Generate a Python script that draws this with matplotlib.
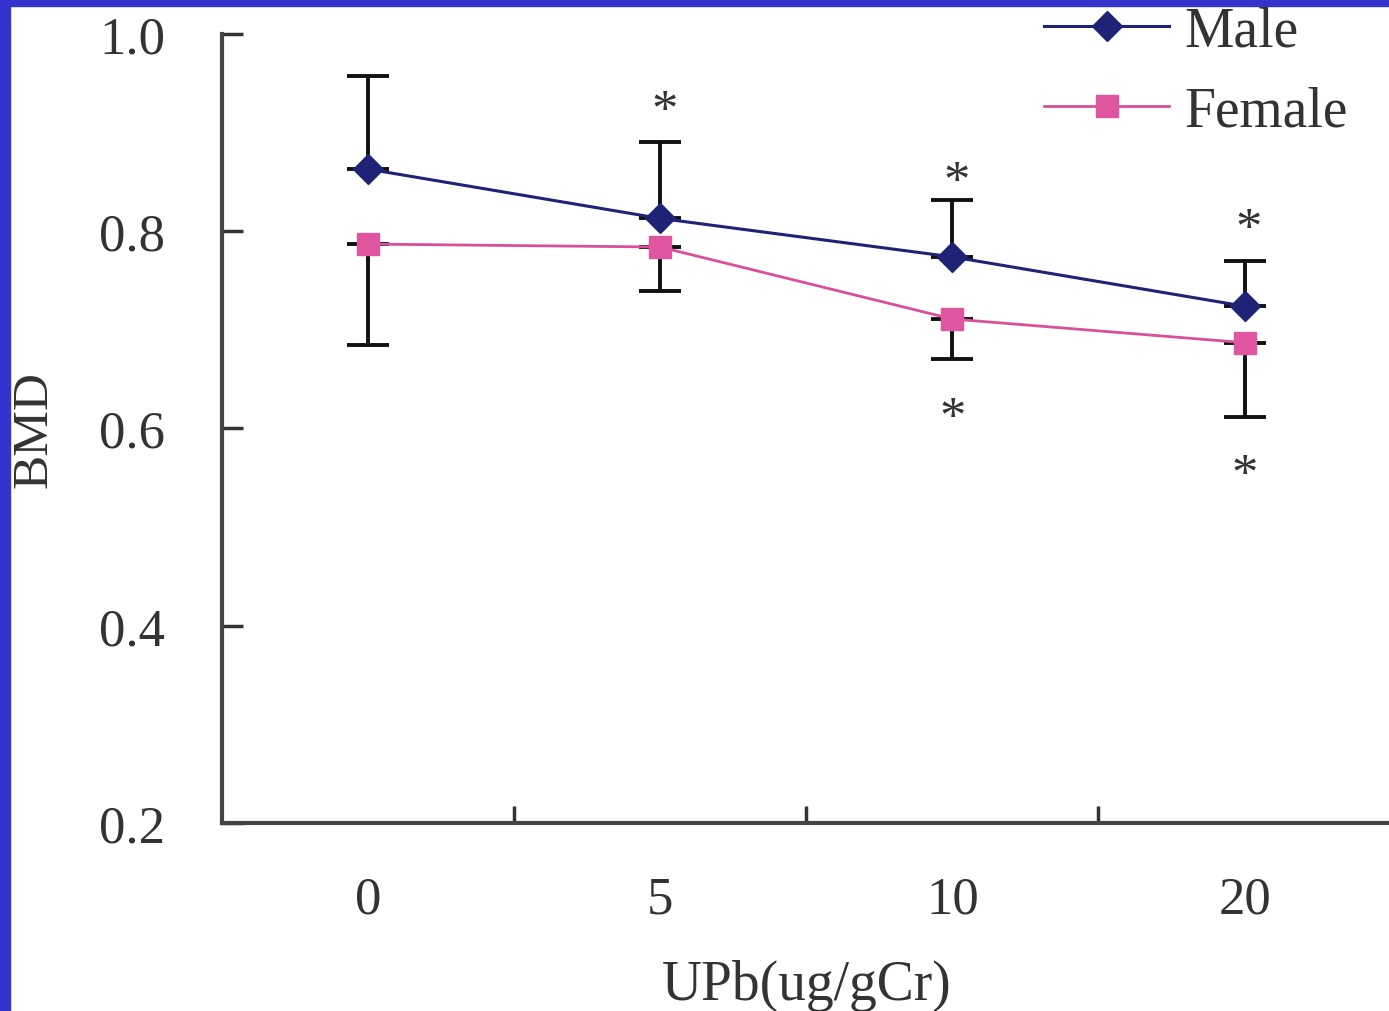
import numpy as np
import matplotlib.pyplot as plt
from matplotlib.patches import Rectangle

# UPb groups and BMD means / SD by sex
groups = ['0', '5', '10', '20']
male_bmd = [0.863, 0.813, 0.774, 0.724]
male_sd = [0.094, 0.077, 0.058, 0.046]
female_bmd = [0.787, 0.784, 0.711, 0.687]
female_sd = [0.102, 0.045, 0.041, 0.075]

# groups marked as significant
male_sig = [1, 2, 3]
female_sig = [2, 3]

plt.rcParams['font.family'] = ['Liberation Serif', 'DejaVu Serif']

x = np.arange(len(groups))
fig = plt.figure(figsize=(13.89, 10.12), dpi=100)
ax = fig.add_axes([0.1598, 0.1858, 0.8414, 0.7796])

# error bars: males go up, females go down
ax.errorbar(x, male_bmd, yerr=[np.zeros(4), male_sd], fmt='none', ecolor='#111111',
            elinewidth=2.8, capsize=15, capthick=2.8, zorder=2)
ax.errorbar(x, female_bmd, yerr=[female_sd, np.zeros(4)], fmt='none', ecolor='#111111',
            elinewidth=2.8, capsize=15, capthick=2.8, zorder=2)

ax.plot(x, male_bmd, color='#1e2375', lw=2.2, marker='D', ms=15,
        label='Male', zorder=3)
ax.plot(x, female_bmd, color='#d9509a', lw=2.0, marker='s', ms=16,
        mfc='#e0559f', mec='#e0559f', label='Female', zorder=3)

# asterisks above male / below female error bars
male_off = [22, 12, 22]
for i, off in zip(male_sig, male_off):
    ax.annotate('*', xy=(x[i], male_bmd[i] + male_sd[i]), xytext=(3, off),
                textcoords='offset points', ha='center', va='center',
                fontsize=38, color='#333333')
for i in female_sig:
    ax.annotate('*', xy=(x[i], female_bmd[i] - female_sd[i]), xytext=(0, -43),
                textcoords='offset points', ha='center', va='center',
                fontsize=38, color='#333333')

ax.set_xlim(-0.5, 3.5)
ax.set_ylim(0.2, 1.0)
ax.set_yticks([0.2, 0.4, 0.6, 0.8, 1.0])
ax.set_yticklabels(['0.2', '0.4', '0.6', '0.8', '1.0'])
ax.set_xticks(x)
ax.set_xticklabels(groups)
ax.set_xticks([0.5, 1.5, 2.5], minor=True)

ax.tick_params(axis='y', direction='in', length=15, width=2.5, color='#333333',
               labelsize=38, labelcolor='#333333', pad=41)
ax.tick_params(axis='x', which='major', length=0, labelsize=38,
               labelcolor='#333333', pad=38)
ax.tick_params(axis='x', which='minor', direction='in', length=12, width=2.5,
               color='#333333')

for side in ['top', 'right']:
    ax.spines[side].set_visible(False)
for side in ['left', 'bottom']:
    ax.spines[side].set_linewidth(3)
    ax.spines[side].set_color('#444444')

ax.set_xlabel('UPb(ug/gCr)', fontsize=40, color='#333333', labelpad=25)
ax.set_ylabel('BMD', fontsize=37, color='#333333', labelpad=30)

ax.legend(loc='upper right', bbox_to_anchor=(0.963, 1.036), frameon=False,
          fontsize=40, handlelength=2.25, handletextpad=0.27, labelspacing=0.5,
          borderpad=0, borderaxespad=0, labelcolor='#333333')

# blue frame along the left and top edges
fig.patches.append(Rectangle((0, 0), 0.0072, 1, transform=fig.transFigure,
                             color='#3434cc', zorder=10))
fig.patches.append(Rectangle((0, 0.993), 1, 0.007, transform=fig.transFigure,
                             color='#3434cc', zorder=10))

fig.savefig('out.png', dpi=100)
